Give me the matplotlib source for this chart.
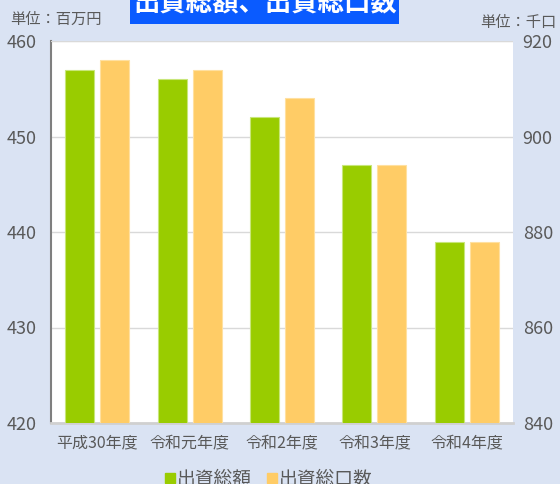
import matplotlib.pyplot as plt
from matplotlib.patches import Rectangle
from matplotlib.lines import Line2D
import numpy as np

plt.rcParams['font.family'] = ['Noto Sans CJK JP', 'DejaVu Sans']

# data
categories = ['平成30年度', '令和元年度', '令和2年度', '令和3年度', '令和4年度']
amount = [457, 456, 452, 447, 439]      # 出資総額 (百万円)
units = [916, 914, 908, 894, 878]       # 出資総口数 (千口)

green = '#99cc00'
orange = '#ffcc66'
bg = '#dae3f3'
txt = '#595959'

fig = plt.figure(figsize=(5.6, 4.84), dpi=100, facecolor=bg)
ax = fig.add_axes([51/560, 61/484, 462/560, 382/484])
ax.set_facecolor('white')
ax2 = ax.twinx()

x = np.arange(len(categories))
w = 0.314
off = 0.19
ax.bar(x - off, amount, w, color=green, edgecolor='#c8e67a', linewidth=0.8, zorder=3)
ax2.bar(x + off, units, w, color=orange, edgecolor='#ffe0a0', linewidth=0.8, zorder=3)

ax.set_xlim(-0.5, 4.5)
ax.set_ylim(420, 460)
ax.set_yticks([420, 430, 440, 450, 460])
ax2.set_ylim(840, 920)
ax2.set_yticks([840, 860, 880, 900, 920])
ax.set_xticks(x)
ax.set_xticklabels(categories)

ax.yaxis.grid(True, color='#d9d9d9', linewidth=1)
ax.set_axisbelow(True)
ax.tick_params(length=0, labelsize=11.5, colors=txt)
ax.tick_params(axis='y', pad=10, labelsize=13)
ax.tick_params(axis='x', pad=8)
ax2.tick_params(length=0, labelsize=13, colors=txt, pad=7)

for s in ['top', 'right']:
    ax.spines[s].set_visible(False)
    ax2.spines[s].set_visible(False)
ax2.spines['left'].set_visible(False)
ax2.spines['bottom'].set_visible(False)
ax.spines['left'].set_color('#7f7f7f')
ax.spines['left'].set_linewidth(1.5)
ax.spines['bottom'].set_color('#d0d0d0')
ax.spines['bottom'].set_linewidth(2)
ax.axhline(460, color='#d9d9d9', linewidth=1.5, zorder=4)

# unit labels
fig.text(10/560, 1 - 19/484, '単位：百万円', fontsize=11, color=txt, va='center', ha='left')
fig.text(556/560, 1 - 22/484, '単位：千口', fontsize=11, color=txt, va='center', ha='right')

# title box (cut off at the top, as in the original)
fig.patches.append(Rectangle((130/560, 1 - 24/484), 269/560, 24/484,
                             transform=fig.transFigure, facecolor='#0a5bff',
                             edgecolor='none', zorder=5))
fig.text(265/560, 1 - 11/484, '出資総額、出資総口数', fontsize=19, fontweight='bold',
         color='white', ha='center', va='baseline', zorder=6)

# legend
handles = [Line2D([], [], marker='s', linestyle='none', markersize=7, color=green),
           Line2D([], [], marker='s', linestyle='none', markersize=7, color=orange)]
fig.legend(handles, ['出資総額', '出資総口数'], loc='center', ncol=2,
           bbox_to_anchor=(268/560, 1 - 479/484), frameon=False, fontsize=13.5,
           labelcolor=txt, handletextpad=0.05, columnspacing=0.7, handlelength=0.7)

fig.savefig('out.png', dpi=100, facecolor=bg)
